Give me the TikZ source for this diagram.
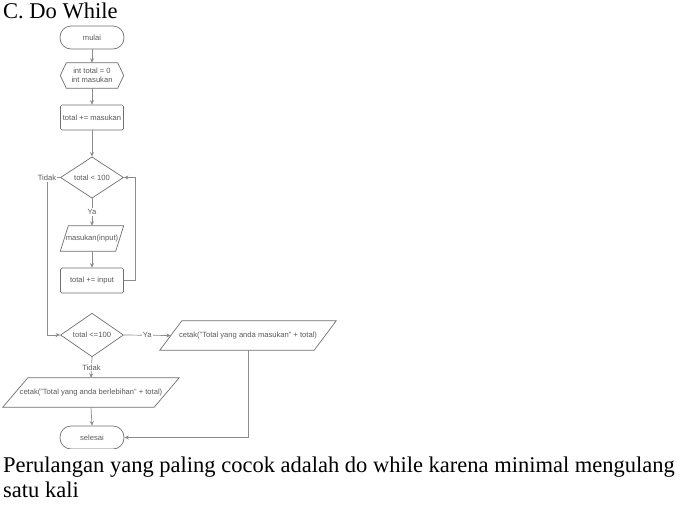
\documentclass[tikz,border=0pt]{standalone}
\usepackage{fontspec}
\setmainfont{Liberation Serif}
\setsansfont{Liberation Sans}
\usetikzlibrary{shapes.geometric,arrows.meta}
\definecolor{ln}{HTML}{8C8C8C}
\definecolor{bd}{HTML}{707070}
\definecolor{tx}{HTML}{5A5A5A}
\tikzset{
  dfont/.style={font=\sffamily\fontsize{7.6}{8.8}\selectfont},
  base/.style={draw=bd, line width=0.7pt, text=tx, dfont, inner sep=0pt, align=center},
  term/.style={base, rounded corners=11pt, minimum width=64pt, minimum height=23pt},
  proc/.style={base, rounded corners=1.5pt, minimum width=63pt, minimum height=25pt},
  dec/.style={base, diamond, minimum width=63pt, minimum height=37pt},
  txt/.style={text=tx, dfont, inner sep=0pt, align=center},
  outl/.style={draw=bd, line width=0.7pt},
  conn/.style={draw=ln, line width=0.7pt, -{Stealth[length=4.5pt,width=4pt]}},
  plain/.style={draw=ln, line width=0.7pt},
  lab/.style={fill=white, text=tx, dfont, inner sep=1.2pt},
  big/.style={font=\fontsize{22.5}{27}\selectfont, inner sep=0pt, anchor=base west}
}
\begin{document}
\begin{tikzpicture}[x=1pt,y=1pt]
\useasboundingbox (0,0) rectangle (683,-528);
\fill[white] (0,0) rectangle (683,-528);

\node[big] (title) at (3,-18) {C. Do While};

\node[term] (mulai) at (92,-37.5) {mulai};
\node[txt, minimum width=63pt, minimum height=25pt] (init) at (92,-75.5) {int total = 0\\int masukan};
\draw[outl] (init.west) -- ([xshift=6pt]init.north west) -- ([xshift=-6pt]init.north east) -- (init.east) -- ([xshift=-6pt]init.south east) -- ([xshift=6pt]init.south west) -- cycle;
\node[proc] (tm) at (92,-117.5) {total += masukan};
\node[dec] (d1) at (92,-177.5) {total < 100};

\node[txt, minimum width=63pt, minimum height=25pt] (inp) at (92,-238.5) {masukan(input)};
\draw[outl] ([xshift=8pt]inp.north west) -- (inp.north east) -- ([xshift=-8pt]inp.south east) -- (inp.south west) -- cycle;

\node[proc] (ti) at (92,-280.5) {total += input};
\node[dec] (d2) at (92,-335) {total <=100};

\node[txt, minimum width=176pt, minimum height=29pt] (c1) at (248,-335.5) {cetak("Total yang anda masukan" + total)};
\draw[outl] ([xshift=22pt]c1.north west) -- (c1.north east) -- ([xshift=-22pt]c1.south east) -- (c1.south west) -- cycle;

\node[txt, minimum width=176pt, minimum height=29pt] (c2) at (91,-392.5) {cetak("Total yang anda berlebihan" + total)};
\draw[outl] ([xshift=25pt]c2.north west) -- (c2.north east) -- ([xshift=-25pt]c2.south east) -- (c2.south west) -- cycle;

\begin{scope}
\clip (0,0) rectangle (683,-448);
\node[term] (sel) at (92,-437.5) {selesai};
\end{scope}

\draw[conn] (mulai) -- (init);
\draw[conn] (init) -- (tm);
\draw[conn] (tm) -- (d1);
\draw[conn] (d1) -- node[lab] {Ya} (inp);
\draw[conn] (inp) -- (ti);
\draw[conn] (ti.east) -- (135,-280.5) -- (135,-177.5) -- (d1.east);
\draw[plain] (d1.west) -- (47,-177.5) node[lab] (tidak1) {Tidak};
\draw[conn] (tidak1.south) -- (47,-335) -- (d2.west);
\draw[conn] (d2.east) -- node[lab] {Ya} ([xshift=11pt]c1.west);
\draw[conn] (d2.south) -- node[lab] {Tidak} (c2.north);
\draw[conn] (c2.south) -- (sel.north);
\draw[conn] (c1.south) |- (sel.east);

\node[big] (p1) at (3,-472) {Perulangan yang paling cocok adalah do while karena minimal mengulang};
\node[big] (p2) at (3,-497) {satu kali};
\end{tikzpicture}
\end{document}
